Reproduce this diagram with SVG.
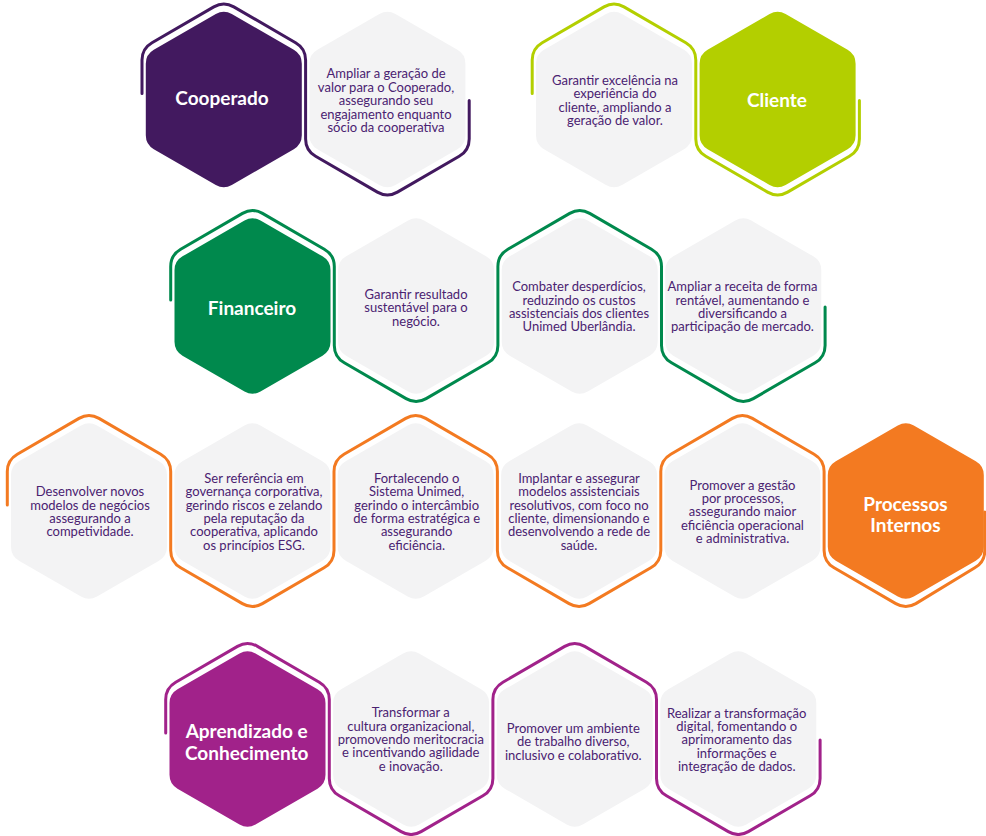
<svg xmlns="http://www.w3.org/2000/svg" width="986" height="836" viewBox="0 0 986 836">
<defs>
<path id="hex" d="M -8,-85.45 A 16 16 0 0 1 8,-85.45 L 70,-49.65 A 16 16 0 0 1 78,-35.79 L 78,35.79 A 16 16 0 0 1 70,49.65 L 8,85.45 A 16 16 0 0 1 -8,85.45 L -70,49.65 A 16 16 0 0 1 -78,35.79 L -78,-35.79 A 16 16 0 0 1 -70,-49.65 Z"/>
<style>
.gray{fill:#f3f3f4}
.purple{fill:#42195f}
.lime{fill:#b3cf00}
.green{fill:#00894d}
.orange{fill:#f37a21}
.magenta{fill:#a1228a}
.line{fill:none;stroke-width:3;stroke-linejoin:round;stroke-linecap:round}
.txt{font-family:Lato,"Open Sans","Liberation Sans",sans-serif;font-size:13px;fill:#4a2271;text-anchor:middle}
.title{font-family:Lato,"Open Sans","Liberation Sans",sans-serif;font-size:19px;font-weight:bold;fill:#ffffff;text-anchor:middle}
</style>
</defs>
<rect width="986" height="836" fill="#ffffff"/>

<g id="connectors">
<path class="line" stroke="#42195f" d="M 142,93.5 L 142,60.05 A 20 20 0 0 1 152,42.73 L 213.8,6.87 A 20 20 0 0 1 233.8,6.87 L 295.6,42.73 A 20 20 0 0 1 305.6,60.05 L 305.6,138.95 A 20 20 0 0 0 315.6,156.27 L 377.4,192.13 A 20 20 0 0 0 397.4,192.13 L 459.2,156.27 A 20 20 0 0 0 469.2,138.95 L 469.2,100.5"/>
<path class="line" stroke="#b3cf00" d="M 532.2,93.5 L 532.2,60.05 A 20 20 0 0 1 542.2,42.73 L 604,6.87 A 20 20 0 0 1 624,6.87 L 685.8,42.73 A 20 20 0 0 1 695.8,60.05 L 695.8,138.95 A 20 20 0 0 0 705.8,156.27 L 767.6,192.13 A 20 20 0 0 0 787.6,192.13 L 849.4,156.27 A 20 20 0 0 0 859.4,138.95 L 859.4,100.5"/>
<path class="line" stroke="#00894d" d="M 170.7,300 L 170.7,266.55 A 20 20 0 0 1 180.7,249.23 L 242.5,213.37 A 20 20 0 0 1 262.5,213.37 L 324.3,249.23 A 20 20 0 0 1 334.3,266.55 L 334.3,345.45 A 20 20 0 0 0 344.3,362.77 L 406.1,398.63 A 20 20 0 0 0 426.1,398.63 L 487.9,362.77 A 20 20 0 0 0 497.9,345.45 L 497.9,266.55 A 20 20 0 0 1 507.9,249.23 L 569.7,213.37 A 20 20 0 0 1 589.7,213.37 L 651.5,249.23 A 20 20 0 0 1 661.5,266.55 L 661.5,345.45 A 20 20 0 0 0 671.5,362.77 L 733.3,398.63 A 20 20 0 0 0 753.3,398.63 L 815.1,362.77 A 20 20 0 0 0 825.1,345.45 L 825.1,307"/>
<path class="line" stroke="#f37a21" d="M 7.3,505 L 7.3,471.55 A 20 20 0 0 1 17.3,454.23 L 79,418.37 A 20 20 0 0 1 99,418.37 L 160.7,454.23 A 20 20 0 0 1 170.7,471.55 L 170.7,550.45 A 20 20 0 0 0 180.7,567.77 L 242.4,603.63 A 20 20 0 0 0 262.4,603.63 L 324,567.77 A 20 20 0 0 0 334,550.45 L 334,471.55 A 20 20 0 0 1 344,454.23 L 405.7,418.37 A 20 20 0 0 1 425.7,418.37 L 487.4,454.23 A 20 20 0 0 1 497.4,471.55 L 497.4,550.45 A 20 20 0 0 0 507.4,567.77 L 569.1,603.63 A 20 20 0 0 0 589.1,603.63 L 650.8,567.77 A 20 20 0 0 0 660.8,550.45 L 660.8,471.55 A 20 20 0 0 1 670.8,454.23 L 732.4,418.37 A 20 20 0 0 1 752.4,418.37 L 814.1,454.23 A 20 20 0 0 1 824.1,471.55 L 824.1,550.45 A 20 20 0 0 0 834.1,567.77 L 895.8,603.63 A 20 20 0 0 0 915.8,603.63 L 974.8,567.77 A 20 20 0 0 0 984.8,550.45 L 984.8,512"/>
<path class="line" stroke="#a1228a" d="M 165.7,733 L 165.7,699.55 A 20 20 0 0 1 175.7,682.23 L 237.5,646.37 A 20 20 0 0 1 257.5,646.37 L 319.3,682.23 A 20 20 0 0 1 329.3,699.55 L 329.3,778.45 A 20 20 0 0 0 339.3,795.77 L 401.1,831.63 A 20 20 0 0 0 421.1,831.63 L 482.9,795.77 A 20 20 0 0 0 492.9,778.45 L 492.9,699.55 A 20 20 0 0 1 502.9,682.23 L 564.7,646.37 A 20 20 0 0 1 584.7,646.37 L 646.5,682.23 A 20 20 0 0 1 656.5,699.55 L 656.5,778.45 A 20 20 0 0 0 666.5,795.77 L 728.3,831.63 A 20 20 0 0 0 748.3,831.63 L 810.1,795.77 A 20 20 0 0 0 820.1,778.45 L 820.1,740"/>
</g>

<g id="cooperado">
<use href="#hex" class="purple" transform="translate(223.8,99.5)"/>
<text class="title" x="222" y="105.3">Cooperado</text>
</g>
<g id="cooperado-obj1">
<use href="#hex" class="gray" transform="translate(387.4,99.5)"/>
<text class="txt"><tspan x="386" y="78">Ampliar a geração de</tspan><tspan x="386" y="91.6">valor para o Cooperado,</tspan><tspan x="386" y="105.2">assegurando seu</tspan><tspan x="386" y="118.8">engajamento enquanto</tspan><tspan x="386" y="132.4">sócio da cooperativa</tspan></text>
</g>
<g id="cliente-obj1">
<use href="#hex" class="gray" transform="translate(614,99.5)"/>
<text class="txt"><tspan x="615" y="84.5">Garantir excelência na</tspan><tspan x="615" y="98">experiência do</tspan><tspan x="615" y="111.5">cliente, ampliando a</tspan><tspan x="615" y="125">geração de valor.</tspan></text>
</g>
<g id="cliente">
<use href="#hex" class="lime" transform="translate(777.6,99.5)"/>
<text class="title" x="777" y="107">Cliente</text>
</g>

<g id="financeiro">
<use href="#hex" class="green" transform="translate(252.5,306)"/>
<text class="title" x="252" y="315">Financeiro</text>
</g>
<g id="financeiro-obj1">
<use href="#hex" class="gray" transform="translate(416.1,306)"/>
<text class="txt"><tspan x="416" y="298.8">Garantir resultado</tspan><tspan x="416" y="312.2">sustentável para o</tspan><tspan x="416" y="325.6">negócio.</tspan></text>
</g>
<g id="financeiro-obj2">
<use href="#hex" class="gray" transform="translate(579.7,306)"/>
<text class="txt"><tspan x="579" y="291.2">Combater desperdícios,</tspan><tspan x="579" y="304.6">reduzindo os custos</tspan><tspan x="579" y="318">assistenciais dos clientes</tspan><tspan x="579" y="331.4">Unimed Uberlândia.</tspan></text>
</g>
<g id="financeiro-obj3">
<use href="#hex" class="gray" transform="translate(743.3,306)"/>
<text class="txt"><tspan x="742.5" y="291.2">Ampliar a receita de forma</tspan><tspan x="742.5" y="304.6">rentável, aumentando e</tspan><tspan x="742.5" y="318">diversificando a</tspan><tspan x="742.5" y="331.4">participação de mercado.</tspan></text>
</g>

<g id="processos-obj1">
<use href="#hex" class="gray" transform="translate(89,511)"/>
<text class="txt"><tspan x="90" y="496.2">Desenvolver novos</tspan><tspan x="90" y="509.6">modelos de negócios</tspan><tspan x="90" y="523">assegurando a</tspan><tspan x="90" y="536.4">competividade.</tspan></text>
</g>
<g id="processos-obj2">
<use href="#hex" class="gray" transform="translate(252.4,511)"/>
<text class="txt"><tspan x="254" y="482.8">Ser referência em</tspan><tspan x="254" y="496.2">governança corporativa,</tspan><tspan x="254" y="509.6">gerindo riscos e zelando</tspan><tspan x="254" y="523">pela reputação da</tspan><tspan x="254" y="536.4">cooperativa, aplicando</tspan><tspan x="254" y="549.8">os princípios ESG.</tspan></text>
</g>
<g id="processos-obj3">
<use href="#hex" class="gray" transform="translate(415.7,511)"/>
<text class="txt"><tspan x="416.7" y="482.8">Fortalecendo o</tspan><tspan x="416.7" y="496.2">Sistema Unimed,</tspan><tspan x="416.7" y="509.6">gerindo o intercâmbio</tspan><tspan x="416.7" y="523">de forma estratégica e</tspan><tspan x="416.7" y="536.4">assegurando</tspan><tspan x="416.7" y="549.8">eficiência.</tspan></text>
</g>
<g id="processos-obj4">
<use href="#hex" class="gray" transform="translate(579.1,511)"/>
<text class="txt"><tspan x="579" y="482.8">Implantar e assegurar</tspan><tspan x="579" y="496.2">modelos assistenciais</tspan><tspan x="579" y="509.6">resolutivos, com foco no</tspan><tspan x="579" y="523">cliente, dimensionando e</tspan><tspan x="579" y="536.4">desenvolvendo a rede de</tspan><tspan x="579" y="549.8">saúde.</tspan></text>
</g>
<g id="processos-obj5">
<use href="#hex" class="gray" transform="translate(742.4,511)"/>
<text class="txt"><tspan x="742.5" y="489.5">Promover a gestão</tspan><tspan x="742.5" y="502.9">por processos,</tspan><tspan x="742.5" y="516.3">assegurando maior</tspan><tspan x="742.5" y="529.7">eficiência operacional</tspan><tspan x="742.5" y="543.1">e administrativa.</tspan></text>
</g>
<g id="processos">
<use href="#hex" class="orange" transform="translate(905.8,511)"/>
<text class="title"><tspan x="905.5" y="511.3">Processos</tspan><tspan x="905.5" y="532">Internos</tspan></text>
</g>

<g id="aprendizado">
<use href="#hex" class="magenta" transform="translate(247.5,739)"/>
<text class="title"><tspan x="246.7" y="737.7">Aprendizado e</tspan><tspan x="246.7" y="759.7">Conhecimento</tspan></text>
</g>
<g id="aprendizado-obj1">
<use href="#hex" class="gray" transform="translate(411.1,739)"/>
<text class="txt"><tspan x="410.8" y="717.2">Transformar a</tspan><tspan x="410.8" y="730.6">cultura organizacional,</tspan><tspan x="410.8" y="744">promovendo meritocracia</tspan><tspan x="410.8" y="757.4">e incentivando agilidade</tspan><tspan x="410.8" y="770.8">e inovação.</tspan></text>
</g>
<g id="aprendizado-obj2">
<use href="#hex" class="gray" transform="translate(574.7,739)"/>
<text class="txt"><tspan x="573.3" y="732.8">Promover um ambiente</tspan><tspan x="573.3" y="746.2">de trabalho diverso,</tspan><tspan x="573.3" y="759.6">inclusivo e colaborativo.</tspan></text>
</g>
<g id="aprendizado-obj3">
<use href="#hex" class="gray" transform="translate(738.3,739)"/>
<text class="txt"><tspan x="736.7" y="717.5">Realizar a transformação</tspan><tspan x="736.7" y="730.9">digital, fomentando o</tspan><tspan x="736.7" y="744.3">aprimoramento das</tspan><tspan x="736.7" y="757.7">informações e</tspan><tspan x="736.7" y="771.1">integração de dados.</tspan></text>
</g>
</svg>
